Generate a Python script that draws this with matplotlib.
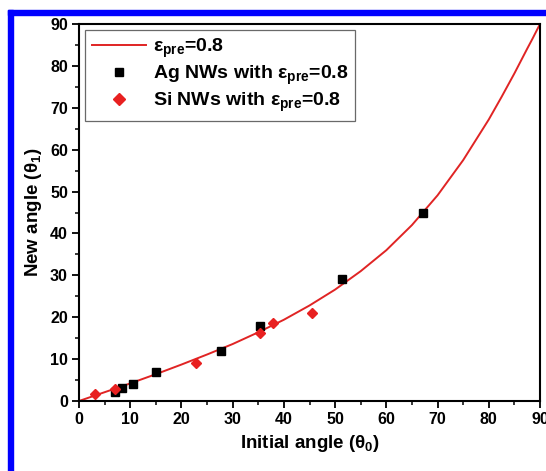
import matplotlib
matplotlib.use('Agg')
import matplotlib.pyplot as plt
from matplotlib.patches import Rectangle
from matplotlib.ticker import MultipleLocator

plt.rcParams['font.family'] = ['Liberation Sans', 'DejaVu Sans']
plt.rcParams['font.weight'] = 'bold'
plt.rcParams['mathtext.fontset'] = 'custom'
plt.rcParams['mathtext.rm'] = 'Liberation Sans:bold'
plt.rcParams['mathtext.it'] = 'Liberation Sans:bold'
plt.rcParams['mathtext.bf'] = 'Liberation Sans:bold'

# theory curve eps_pre = 0.8
curve_x = [0, 5, 10, 15, 20, 25, 30, 35, 40, 45, 50, 55, 60, 65, 70, 75, 80, 82.5, 85, 87.5, 88.5, 90]
curve_y = [0, 2.1, 4.2, 6.4, 8.7, 11.1, 13.6, 16.4, 19.4, 22.8, 26.6, 31.0, 36.0, 42.0, 49.1, 57.5, 67.2, 72.6, 78.2, 84.1, 86.4, 90]

# Ag nanowires
ag_x = [7.0, 8.3, 10.5, 15.0, 27.7, 35.4, 51.4, 67.2]
ag_y = [2.2, 3.2, 4.1, 6.9, 11.9, 17.9, 29.1, 44.9]

# Si nanowires
si_x = [3.1, 7.0, 22.9, 35.4, 37.8, 45.5]
si_y = [1.6, 2.8, 9.1, 16.2, 18.6, 21.0]

fig = plt.figure(figsize=(5.46, 4.71), dpi=100)
ax = fig.add_axes([79 / 546, 1 - 401 / 471, (540 - 79) / 546, (401 - 24) / 471])

# blue frame of the original figure (top and left edges only visible)
fig.patches.append(Rectangle((8 / 546, 0), 5 / 546, 1 - 10 / 471, transform=fig.transFigure,
                             color='#0000ff', zorder=0))
fig.patches.append(Rectangle((8 / 546, 1 - 15 / 471), 1, 5 / 471, transform=fig.transFigure,
                             color='#0000ff', zorder=0))

ax.plot(curve_x, curve_y, color='#e02424', lw=1.4, label=r'$\mathregular{\varepsilon_{pre}}$=0.8')
ax.plot(ag_x, ag_y, 's', color='black', ms=5.5, label=r'Ag NWs with $\mathregular{\varepsilon_{pre}}$=0.8')
ax.plot(si_x, si_y, 'D', color='#e82020', ms=5.5, label=r'Si NWs with $\mathregular{\varepsilon_{pre}}$=0.8')

ax.set_xlim(0, 90)
ax.set_ylim(0, 90)
ax.xaxis.set_major_locator(MultipleLocator(10))
ax.xaxis.set_minor_locator(MultipleLocator(5))
ax.yaxis.set_major_locator(MultipleLocator(10))
ax.yaxis.set_minor_locator(MultipleLocator(5))
ax.tick_params(which='both', direction='out', top=False, right=False, labelsize=11.5)
ax.tick_params(which='major', length=5, width=1.3, pad=3)
ax.tick_params(which='minor', length=3, width=1.1)
for s in ax.spines.values():
    s.set_linewidth(1.5)

ax.set_xlabel(r'Initial angle ($\mathregular{\theta_0}$)', fontsize=13.5, fontweight='bold', labelpad=4)
ax.set_ylabel(r'New angle ($\mathregular{\theta_1}$)', fontsize=13.5, fontweight='bold', labelpad=4)

leg = ax.legend(loc='upper left', bbox_to_anchor=(0.0, 1.0), fontsize=14, frameon=True, fancybox=False,
                edgecolor='#444444', borderpad=0.35, handlelength=2.8, handletextpad=0.35, labelspacing=0.2,
                borderaxespad=0.3, markerscale=1.05)
leg.get_frame().set_linewidth(0.9)

fig.savefig('out.png', dpi=100)
